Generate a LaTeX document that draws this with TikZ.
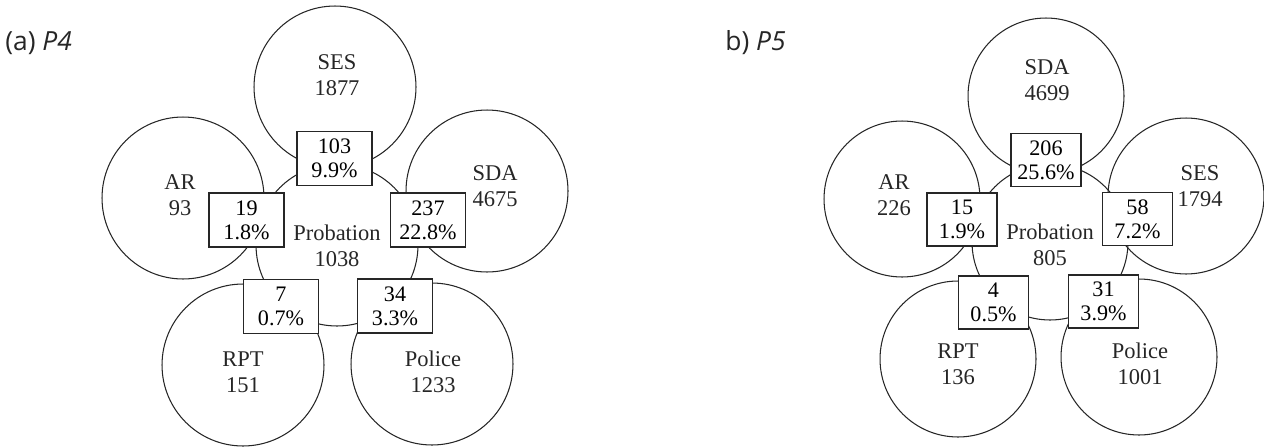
\documentclass[tikz,border=0pt]{standalone}
\usepackage{fontspec}
\setmainfont{Liberation Serif}
\newfontfamily\labelfont{Open Sans}
\usepackage{tikz}

\begin{document}
\begin{tikzpicture}[x=0.02cm,y=-0.02cm,set/.style={shape=circle,draw=black!85,line width=0.6pt,inner sep=0pt,minimum size=3.24cm},setB/.style={set,minimum size=3.12cm},count/.style={shape=rectangle,draw=black!85,line width=0.6pt,fill=white,align=center,inner sep=0pt,minimum width=1.5cm,minimum height=1.08cm,font=\fontsize{12.6}{13.6}\selectfont},countB/.style={count,minimum width=1.4cm,minimum height=1.06cm},tag/.style={align=center,text=black!85,font=\fontsize{12.8}{14.7}\selectfont},panel/.style={anchor=west,inner sep=0pt,text=black!85,font=\labelfont\fontsize{15}{18}\selectfont}]
\useasboundingbox (0,0) rectangle (1264,447);

\node[panel] (la) at (5,43) {(a) \textit{P4}};
\node[panel] (lb) at (725,43) {b) \textit{P5}};

% (a)
\node[set] (P) at (337,245) {};
\node[set] (SES) at (335,87) {};
\node[set] (AR) at (183,198) {};
\node[set] (SDA) at (487,191) {};
\node[set] (RPT) at (243,365) {};
\node[set] (Pol) at (432,364) {};

\node[tag] (tP) at (337,246) {Probation\\1038};
\node[tag] (tSES) at (337,75) {SES\\1877};
\node[tag] (tAR) at (180,195) {AR\\93};
\node[tag] (tSDA) at (495,186) {SDA\\4675};
\node[tag] (tRPT) at (243,372) {RPT\\151};
\node[tag] (tPol) at (433,372) {Police\\1233};

\node[count] (PS) at (334.5,158.5) {103\\9.9\%};
\node[count] (PA) at (246.5,220) {19\\1.8\%};
\node[count] (PD) at (428,220) {237\\22.8\%};
\node[count] (PR) at (281,306.5) {7\\0.7\%};
\node[count] (PP) at (395,306) {34\\3.3\%};

% (b)
\node[setB] (P2) at (1050,242) {};
\node[setB] (SDA2) at (1046,96) {};
\node[setB] (AR2) at (902,199) {};
\node[setB] (SES2) at (1186,196) {};
\node[setB] (RPT2) at (958,359) {};
\node[setB] (Pol2) at (1139,357) {};

\node[tag] (tP2) at (1050,245) {Probation\\805};
\node[tag] (tSDA2) at (1047,80) {SDA\\4699};
\node[tag] (tAR2) at (894,195) {AR\\226};
\node[tag] (tSES2) at (1200,186) {SES\\1794};
\node[tag] (tRPT2) at (958,364) {RPT\\136};
\node[tag] (tPol2) at (1140,364) {Police\\1001};

\node[countB] (PD2) at (1046,160) {206\\25.6\%};
\node[countB] (PA2) at (962,219.5) {15\\1.9\%};
\node[countB] (PS2) at (1137.5,219) {58\\7.2\%};
\node[countB] (PR2) at (993.5,302.5) {4\\0.5\%};
\node[countB] (PP2) at (1103.5,301.5) {31\\3.9\%};
\end{tikzpicture}
\end{document}
